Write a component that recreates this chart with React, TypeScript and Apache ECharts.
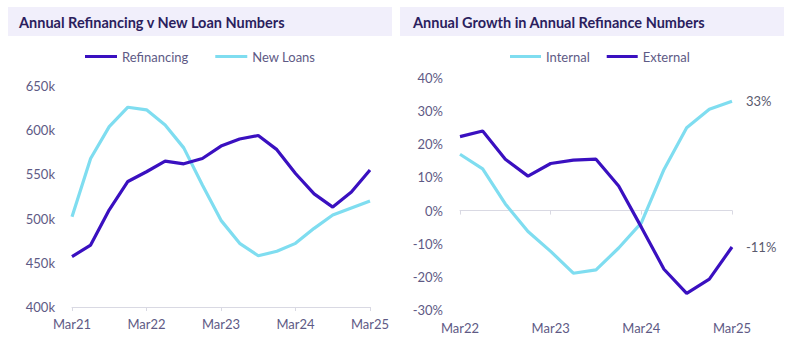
import React, { useEffect, useRef } from "react";
import * as echarts from "echarts";

const leftCategories = [
  "Mar21", "Jun21", "Sep21", "Dec21",
  "Mar22", "Jun22", "Sep22", "Dec22",
  "Mar23", "Jun23", "Sep23", "Dec23",
  "Mar24", "Jun24", "Sep24", "Dec24",
  "Mar25",
];
const refinancing = [457, 470, 510, 542, 553, 565, 562, 568, 582, 590, 594, 578, 551, 528, 513, 530, 555].map((v) => v * 1000);
const newLoans = [502, 568, 604, 626, 623, 606, 580, 538, 498, 472, 458, 463, 472, 489, 504, 512, 520].map((v) => v * 1000);

const rightCategories = [
  "Mar22", "Jun22", "Sep22", "Dec22",
  "Mar23", "Jun23", "Sep23", "Dec23",
  "Mar24", "Jun24", "Sep24", "Dec24",
  "Mar25",
];
const internalGrowth = [17, 12.6, 2, -6.3, -12.3, -18.9, -17.9, -11.3, -3.7, 12.4, 25, 30.6, 33];
const externalGrowth = [22.3, 24, 15.5, 10.4, 14.2, 15.2, 15.5, 7.4, -5, -17.7, -25, -20.7, -11];

const leftTitle = "Annual Refinancing v New Loan Numbers";
const rightTitle = "Annual Growth in Annual Refinance Numbers";

const DARK = "#3A10C0";
const CYAN = "#7FDDF0";
const LABEL = "#5E5A85";
const AXIS = "#D9D9E3";
const FONT = "Lato";

export default function App() {
  const ref = useRef<HTMLDivElement>(null);
  useEffect(() => {
    if (!ref.current) return;
    const chart = echarts.init(ref.current, undefined, { renderer: "svg" });
    const axisLabel = { color: LABEL, fontSize: 13, fontFamily: FONT };
    chart.setOption({
      animation: false,
      backgroundColor: "#ffffff",
      textStyle: { fontFamily: FONT },
      graphic: [
        { type: "rect", shape: { x: 8, y: 7, width: 384, height: 29 }, style: { fill: "#F1EFFB" } },
        { type: "rect", shape: { x: 400, y: 7, width: 384, height: 29 }, style: { fill: "#F1EFFB" } },
        {
          type: "text", x: 19, y: 22,
          style: { text: leftTitle, fill: "#2B1E5E", font: `bold 14.5px ${FONT}`, textVerticalAlign: "middle" },
        },
        {
          type: "text", x: 413, y: 22,
          style: { text: rightTitle, fill: "#2B1E5E", font: `bold 14.5px ${FONT}`, textVerticalAlign: "middle" },
        },
      ],
      legend: [
        {
          left: 85, top: 50, padding: 0, itemGap: 27, itemWidth: 32, itemHeight: 3, icon: "rect",
          textStyle: { color: LABEL, fontSize: 13, fontFamily: FONT },
          data: ["Refinancing", "New Loans"],
        },
        {
          left: 510, top: 50, padding: 0, itemGap: 17, itemWidth: 31, itemHeight: 3, icon: "rect",
          textStyle: { color: LABEL, fontSize: 13, fontFamily: FONT },
          data: ["Internal", "External"],
        },
      ],
      grid: [
        { left: 72, top: 86, width: 298, height: 221, containLabel: false },
        { left: 460, top: 78, width: 272, height: 232, containLabel: false },
      ],
      xAxis: [
        {
          type: "category", gridIndex: 0, data: leftCategories, boundaryGap: false,
          axisLine: { lineStyle: { color: AXIS, width: 1 } },
          axisTick: { interval: 3, length: 4, lineStyle: { color: AXIS } },
          axisLabel: { ...axisLabel, interval: 3, margin: 10 },
        },
        {
          type: "category", gridIndex: 1, data: rightCategories, boundaryGap: false,
          position: "bottom",
          axisLine: { show: false, onZero: false },
          axisTick: { show: false },
          axisLabel: { ...axisLabel, interval: 3, margin: 11 },
        },
        {
          type: "category", gridIndex: 1, data: rightCategories, boundaryGap: false,
          position: "top",
          axisLine: { show: true, onZero: true, lineStyle: { color: AXIS, width: 1 } },
          axisTick: { interval: 3, length: 4, inside: true, lineStyle: { color: AXIS } },
          axisLabel: { show: false },
        },
      ],
      yAxis: [
        {
          type: "value", gridIndex: 0, min: 400000, max: 650000, interval: 50000,
          axisLine: { show: false }, axisTick: { show: false }, splitLine: { show: false },
          axisLabel: { ...axisLabel, margin: 17, formatter: (v: number) => `${v / 1000}k` },
        },
        {
          type: "value", gridIndex: 1, min: -30, max: 40, interval: 10,
          axisLine: { show: false }, axisTick: { show: false }, splitLine: { show: false },
          axisLabel: { ...axisLabel, margin: 17, formatter: (v: number) => `${v}%` },
        },
      ],
      series: [
        {
          name: "Refinancing", type: "line", xAxisIndex: 0, yAxisIndex: 0, data: refinancing,
          showSymbol: false, symbol: "none", lineStyle: { color: DARK, width: 3.2 }, itemStyle: { color: DARK },
          z: 3,
        },
        {
          name: "New Loans", type: "line", xAxisIndex: 0, yAxisIndex: 0, data: newLoans,
          showSymbol: false, symbol: "none", lineStyle: { color: CYAN, width: 3.2 }, itemStyle: { color: CYAN },
          z: 2,
        },
        {
          name: "Internal", type: "line", xAxisIndex: 1, yAxisIndex: 1, data: internalGrowth,
          showSymbol: false, symbol: "none", lineStyle: { color: CYAN, width: 3.2 }, itemStyle: { color: CYAN },
          endLabel: { show: true, distance: 14, color: "#5A5A6E", fontSize: 13, fontFamily: FONT, formatter: (p: any) => `${Math.round(p.value)}%` },
          z: 2,
        },
        {
          name: "External", type: "line", xAxisIndex: 1, yAxisIndex: 1, data: externalGrowth,
          showSymbol: false, symbol: "none", lineStyle: { color: DARK, width: 3.2 }, itemStyle: { color: DARK },
          endLabel: { show: true, distance: 14, color: "#5A5A6E", fontSize: 13, fontFamily: FONT, formatter: (p: any) => `${Math.round(p.value)}%` },
          z: 3,
        },
      ],
    });
    return () => chart.dispose();
  }, []);
  return (
    <div
      ref={ref}
      style={{ position: "fixed", left: 0, top: 0, width: 800, height: 353, background: "#fff" }}
    />
  );
}
